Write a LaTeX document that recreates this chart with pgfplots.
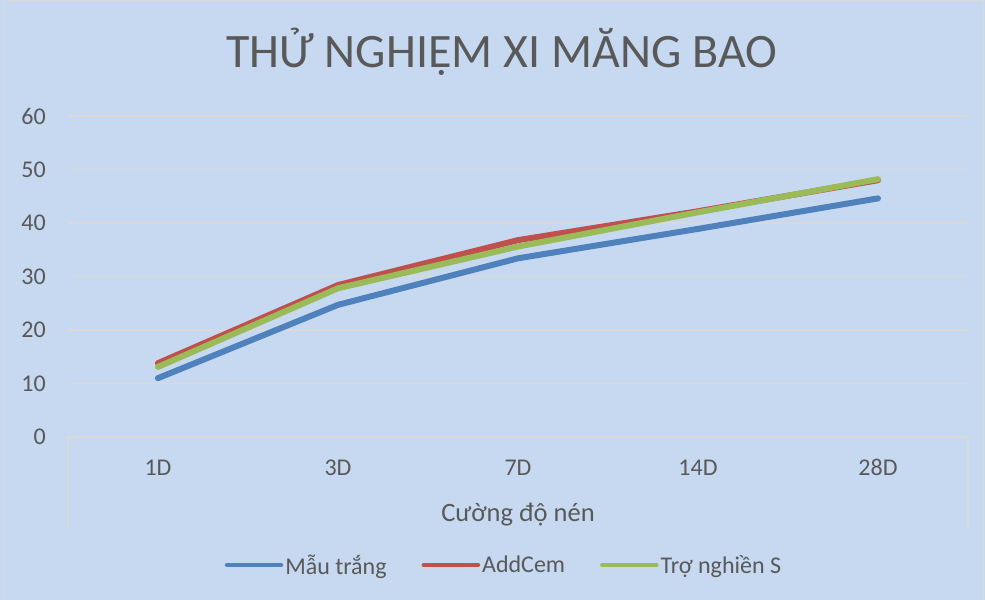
\documentclass[border=0pt]{standalone}
\usepackage{fontspec}
\setmainfont{Carlito}
\usepackage{pgfplots}
\pgfplotsset{compat=1.18}
\definecolor{bg}{RGB}{198,217,240}
\definecolor{gridgray}{RGB}{217,217,217}
\definecolor{txt}{RGB}{89,89,89}
\definecolor{sBlue}{RGB}{79,129,189}
\definecolor{sRed}{RGB}{192,80,77}
\definecolor{sGreen}{RGB}{155,187,89}
\begin{document}
\begin{tikzpicture}
\fill[bg] (-68bp,-163bp) rectangle (917bp,437bp);
\draw[gridgray,line width=1bp] (-64bp,-163bp) -- (-64bp,436bp) -- (915bp,436bp) -- (915bp,-163bp);
\begin{axis}[
  at={(0,0)},anchor=south west,
  scale only axis,width=900bp,height=321bp,
  xmin=-0.5,xmax=4.5,ymin=0,ymax=60,
  xtick={0,1,2,3,4},
  xticklabels={1D,3D,7D,14D,28D},
  ytick={0,10,20,30,40,50,60},
  axis line style={draw=none},
  tick style={draw=none},
  major tick length=0pt,
  ymajorgrids,
  grid style={gridgray,line width=1.3bp},
  clip=false,
  /pgf/number format/assume math mode=true,
  ticklabel style={font=\fontsize{24bp}{28bp}\selectfont,text=txt},
  yticklabel style={anchor=east,inner sep=0pt,xshift=-22bp},
  xticklabel style={anchor=base,inner sep=0pt,yshift=-38bp},
  title={THỬ NGHIỆM XI MĂNG BAO},
  title style={at={(axis description cs:0.4817,1.134)},anchor=base,
    font=\fontsize{48bp}{56bp}\selectfont,text=txt,inner sep=0pt},
  xlabel={Cường độ nén},
  xlabel style={at={(axis description cs:0.5,0)},anchor=base,yshift=-84bp,
    font=\fontsize{26.5bp}{30bp}\selectfont,text=txt,inner sep=0pt},
  legend columns=3,
  legend style={at={(axis description cs:0.4844,-0.3988)},anchor=center,
    draw=none,fill=none,font=\fontsize{24bp}{28bp}\selectfont,text=txt,
    nodes={inner xsep=2bp,inner ysep=0pt},
    /tikz/every even column/.append style={column sep=33bp}},
  legend image code/.code={\draw[#1,line width=4.5bp] (0bp,0bp) -- (54bp,0bp);},
  every axis plot/.append style={line width=6bp,line join=round,line cap=round},
]
\addplot[sBlue] coordinates {(0,11.0) (1,24.7) (2,33.4) (3,38.9) (4,44.6)};
\addlegendentry{Mẫu trắng}
\addplot[sRed] coordinates {(0,13.8) (1,28.4) (2,36.8) (3,42.2) (4,48.0)};
\addlegendentry{AddCem}
\addplot[sGreen] coordinates {(0,13.1) (1,27.8) (2,35.6) (3,42.0) (4,48.2)};
\addlegendentry{Trợ nghiền S}
\draw[gridgray,line width=1.3bp] (rel axis cs:0,0) -- ([yshift=-91bp]rel axis cs:0,0);
\draw[gridgray,line width=1.3bp] (rel axis cs:1,0) -- ([yshift=-91bp]rel axis cs:1,0);
\end{axis}
\pgfresetboundingbox
\path[use as bounding box] (-68bp,-163bp) rectangle (917bp,437bp);
\end{tikzpicture}
\end{document}
